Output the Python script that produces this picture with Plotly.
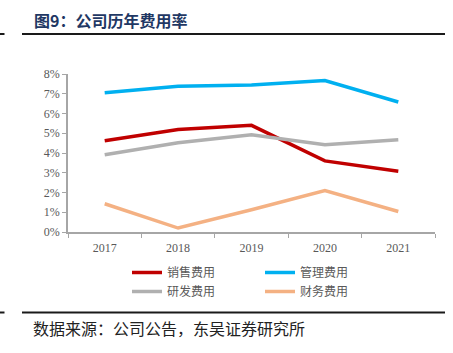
import plotly.graph_objects as go

years = ["2017", "2018", "2019", "2020", "2021"]
sales = [4.62, 5.19, 5.40, 3.60, 3.08]
admin = [7.05, 7.38, 7.44, 7.67, 6.58]
rnd = [3.91, 4.52, 4.92, 4.42, 4.67]
fin = [1.43, 0.20, 1.13, 2.10, 1.04]
names = ["销售费用", "管理费用", "研发费用", "财务费用"]
colors = ["#C00000", "#00B0F0", "#B0B0B0", "#F4B183"]

W, H = 453, 353
L, R, T, B = 68, 18, 74, 121
pw, ph = W - L - R, H - T - B

def px_x(x):
    return (x - L) / pw

def px_y(y):
    return (H - B - y) / ph

fig = go.Figure()
for nm, vals, c in zip(names, [sales, admin, rnd, fin], colors):
    fig.add_trace(go.Scatter(x=years, y=vals, name=nm, mode="lines",
                             line=dict(color=c, width=3.5)))

axis_font = dict(family="Liberation Serif", size=12, color="#595959")
fig.update_layout(
    width=W, height=H,
    margin=dict(l=L, r=R, t=T, b=B, autoexpand=False),
    plot_bgcolor="white", paper_bgcolor="white",
    showlegend=True,
    legend=dict(orientation="h", x=px_x(127), y=px_y(258), xanchor="left", yanchor="top",
                entrywidth=88, entrywidthmode="pixels", tracegroupgap=0,
                font=dict(family="Noto Sans CJK SC", size=12, color="#595959"),
                itemwidth=30),
    xaxis=dict(type="category", range=[-0.5, 4.5], showline=True, linecolor="#A6A6A6",
               linewidth=1.5, ticks="outside", tickson="boundaries", ticklen=4,
               tickcolor="#A6A6A6", showgrid=False, tickfont=axis_font, fixedrange=True,
               ticklabelstandoff=4),
    yaxis=dict(range=[0, 8], dtick=1, ticksuffix="%", showline=True, linecolor="#A6A6A6",
               linewidth=1.5, ticks="outside", ticklen=4, tickcolor="#A6A6A6",
               showgrid=False, zeroline=False, tickfont=axis_font, fixedrange=True),
)

for y in (34, 312.5):
    fig.add_shape(type="line", xref="paper", yref="paper", x0=px_x(22), x1=px_x(445),
                  y0=px_y(y), y1=px_y(y), line=dict(color="#1a1a1a", width=2))
    fig.add_shape(type="line", xref="paper", yref="paper", x0=px_x(0), x1=px_x(4.5),
                  y0=px_y(y), y1=px_y(y), line=dict(color="#1a1a1a", width=2))

fig.add_annotation(text="<b>图9：公司历年费用率</b>", xref="paper", yref="paper",
                   x=px_x(32), y=px_y(20), xanchor="left", yanchor="middle", showarrow=False,
                   font=dict(family="Noto Sans CJK SC", size=16, color="#1F3864"))
fig.add_annotation(text="数据来源：公司公告，东吴证券研究所", xref="paper", yref="paper",
                   x=px_x(31), y=px_y(328), xanchor="left", yanchor="middle", showarrow=False,
                   font=dict(family="Noto Sans CJK SC", size=16, color="#222222"))

fig.write_html("out.html")
